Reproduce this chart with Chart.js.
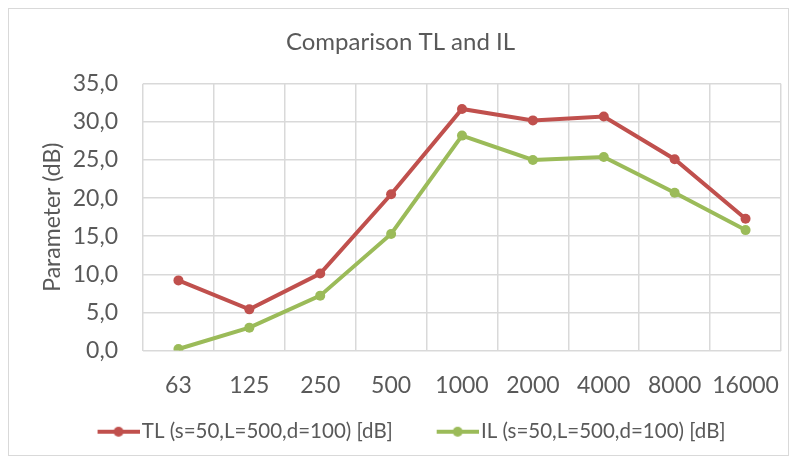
<!DOCTYPE html>
<html>
<head>
<meta charset="utf-8">
<script src="https://cdn.jsdelivr.net/npm/chart.js@4/dist/chart.umd.min.js"></script>
<style>
    html, body { margin: 0; padding: 0; background: #ffffff; }
    #wrap { position: absolute; left: 8px; top: 8px; width: 779px; height: 446px; border: 1px solid #d9d9d9; overflow: hidden; }
    #chart { position: absolute; left: -9px; top: -9px; }
</style>
</head>
<body>
<div id="wrap"><canvas id="chart" width="791" height="461"></canvas></div>
<script>
const frequencies = ['63', '125', '250', '500', '1000', '2000', '4000', '8000', '16000'];
const tlValues = [9.2, 5.4, 10.1, 20.5, 31.7, 30.2, 30.7, 25.1, 17.3];
const ilValues = [0.2, 3.0, 7.2, 15.3, 28.2, 25.0, 25.4, 20.7, 15.8];
const tlLabel = 'TL (s=50,L=500,d=100) [dB]';
const ilLabel = 'IL (s=50,L=500,d=100) [dB]';

const textColor = '#595959';
const gridColor = '#d9d9d9';
const fontFamily = 'Lato, "Open Sans", sans-serif';

// legend marker: short line with a dot in the middle, like Excel
// (left part of the canvas stays empty, it works as spacing between entries)
function legendMarker(color) {
    const c = document.createElement('canvas');
    c.width = 72;
    c.height = 12;
    const g = c.getContext('2d');
    g.strokeStyle = color;
    g.lineWidth = 4;
    g.beginPath();
    g.moveTo(30, 6);
    g.lineTo(72, 6);
    g.stroke();
    g.fillStyle = color;
    g.beginPath();
    g.arc(51, 6, 5, 0, Math.PI * 2);
    g.fill();
    return c;
}

const ctx = document.getElementById('chart').getContext('2d');

new Chart(ctx, {
    type: 'line',
    data: {
        labels: frequencies,
        datasets: [
            {
                label: tlLabel,
                data: tlValues,
                borderColor: '#c0504d',
                backgroundColor: '#c0504d',
                borderWidth: 4,
                pointRadius: 5,
                pointBorderWidth: 0
            },
            {
                label: ilLabel,
                data: ilValues,
                borderColor: '#9bbb59',
                backgroundColor: '#9bbb59',
                borderWidth: 4,
                pointRadius: 5,
                pointBorderWidth: 0
            }
        ]
    },
    options: {
        responsive: false,
        animation: false,
        layout: { padding: { left: 20, right: 10, top: 0, bottom: 9 } },
        scales: {
            x: {
                offset: true,
                grid: { offset: true, color: gridColor, lineWidth: 1.5, drawTicks: false },
                border: { display: false },
                ticks: { color: textColor, font: { family: fontFamily, size: 23 }, padding: 21, maxRotation: 0, autoSkip: false },
                afterFit: scale => {
                    scale.height = 49;
                    scale.paddingLeft = 0;
                    scale.paddingRight = 0;
                }
            },
            y: {
                min: 0,
                max: 35,
                grid: { color: gridColor, lineWidth: 1.5, drawTicks: false },
                border: { display: false },
                ticks: {
                    stepSize: 5,
                    color: textColor,
                    font: { family: fontFamily, size: 23 },
                    padding: 25,
                    callback: v => v.toFixed(1).replace('.', ',')
                },
                title: { display: true, text: 'Parameter (dB)', color: textColor, font: { family: fontFamily, size: 23 }, padding: { top: 19, bottom: 6 } },
                afterFit: scale => { scale.width = 123; }
            }
        },
        plugins: {
            title: {
                display: true,
                text: 'Comparison TL and IL',
                color: textColor,
                font: { family: fontFamily, size: 24, weight: 'normal' },
                padding: { top: 28, bottom: 27 }
            },
            legend: {
                position: 'bottom',
                labels: {
                    color: textColor,
                    font: { family: fontFamily, size: 20.5 },
                    usePointStyle: true,
                    pointStyleWidth: 56,
                    padding: 22,
                    generateLabels: chart => chart.data.datasets.map((ds, i) => ({
                        text: ds.label,
                        fontColor: textColor,
                        pointStyle: legendMarker(ds.borderColor),
                        lineWidth: 0,
                        strokeStyle: ds.borderColor,
                        fillStyle: ds.borderColor,
                        datasetIndex: i
                    }))
                }
            },
            tooltip: { enabled: false }
        }
    }
});
</script>
</body>
</html>
